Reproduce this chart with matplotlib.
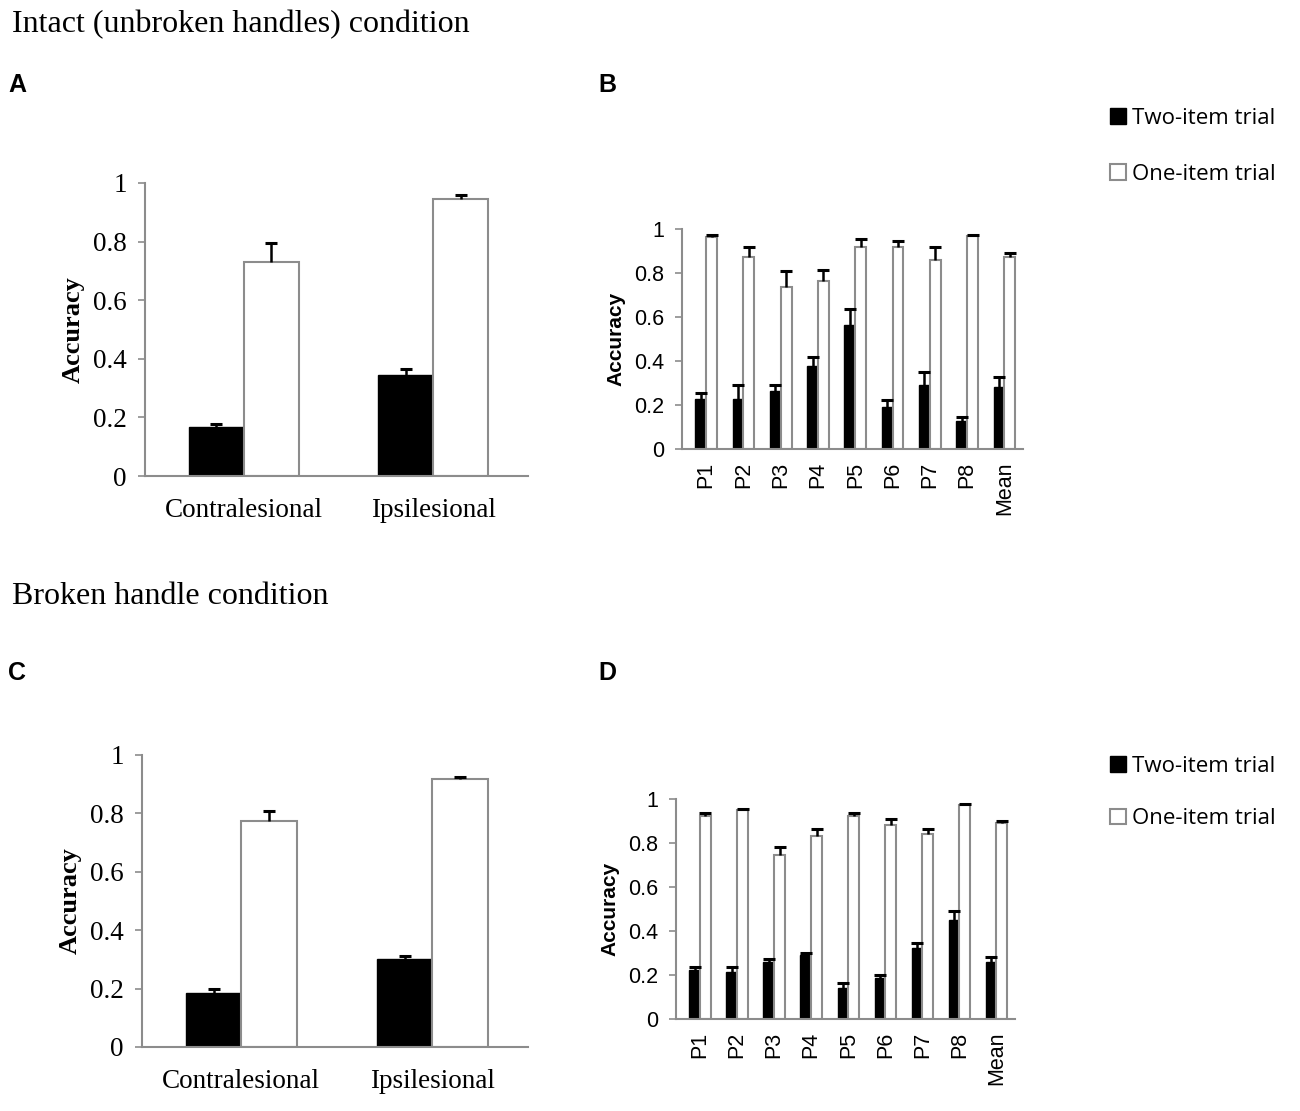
import matplotlib.pyplot as plt
from matplotlib.patches import Patch
import numpy as np

# panel A / C: side-level means
sides = ['Contralesional', 'Ipsilesional']
a_two = [0.166, 0.344]
a_two_err = [0.012, 0.020]
a_one = [0.732, 0.945]
a_one_err = [0.063, 0.015]

c_two = [0.185, 0.302]
c_two_err = [0.013, 0.011]
c_one = [0.775, 0.918]
c_one_err = [0.034, 0.008]

# panel B / D: per participant
patients = ['P1', 'P2', 'P3', 'P4', 'P5', 'P6', 'P7', 'P8', 'Mean']
b_two = [0.227, 0.227, 0.265, 0.376, 0.565, 0.190, 0.290, 0.126, 0.282]
b_two_err = [0.028, 0.063, 0.025, 0.044, 0.071, 0.034, 0.060, 0.019, 0.044]
b_one = [0.964, 0.873, 0.735, 0.765, 0.917, 0.917, 0.860, 0.967, 0.873]
b_one_err = [0.010, 0.045, 0.073, 0.050, 0.038, 0.027, 0.057, 0.007, 0.017]

d_two = [0.224, 0.212, 0.258, 0.290, 0.140, 0.186, 0.323, 0.452, 0.258]
d_two_err = [0.012, 0.024, 0.016, 0.010, 0.024, 0.014, 0.022, 0.038, 0.024]
d_one = [0.921, 0.952, 0.747, 0.830, 0.921, 0.883, 0.842, 0.974, 0.890]
d_one_err = [0.015, 0.004, 0.035, 0.035, 0.015, 0.027, 0.023, 0.002, 0.010]

legend_labels = ['Two-item trial', 'One-item trial']
yticks = [0, 0.2, 0.4, 0.6, 0.8, 1]
ytick_labels = ['0', '0.2', '0.4', '0.6', '0.8', '1']

GRAY = '#8c8c8c'
SERIF = 'Liberation Serif'
SANS = 'Liberation Sans'
W, H = 1300, 1111

fig = plt.figure(figsize=(W / 100, H / 100), dpi=100)


def px_axes(left, top, right, bottom):
    return fig.add_axes([left / W, 1 - bottom / H, (right - left) / W, (bottom - top) / H])


def draw_panel(ax, cats, two, two_err, one, one_err, font, fs, lab_fs, rot, xlim, xpad):
    x = np.arange(len(cats))
    w = 0.29
    ax.bar(x - w / 2, two, w, color='black', edgecolor='black', linewidth=1, zorder=2)
    ax.bar(x + w / 2, one, w, color='white', edgecolor=GRAY, linewidth=1.5, zorder=2)
    # one-sided error bars (upper only) with short caps
    for xs, v, e in ((x - w / 2, two, two_err), (x + w / 2, one, one_err)):
        tops = np.array(v) + np.array(e)
        ax.vlines(xs, v, tops, color='black', linewidth=1.8, zorder=3)
        ax.plot(xs, tops, ls='none', marker='_', ms=8, mew=2.2, color='black', zorder=3)
    ax.set_ylim(0, 1)
    ax.set_xlim(*xlim)
    ax.set_yticks(yticks)
    ax.set_yticklabels(ytick_labels, fontfamily=font, fontsize=fs)
    ax.set_xticks(x)
    ax.set_xticklabels(cats, fontfamily=font, fontsize=fs, rotation=rot)
    ax.tick_params(axis='x', length=0, pad=xpad)
    ax.tick_params(axis='y', length=5, color=GRAY, width=1.2, direction='out', pad=8)
    for s in ('top', 'right'):
        ax.spines[s].set_visible(False)
    for s in ('left', 'bottom'):
        ax.spines[s].set_color(GRAY)
        ax.spines[s].set_linewidth(1.5)
    ax.set_ylabel('Accuracy', fontfamily=font, fontsize=lab_fs, fontweight='bold',
                  labelpad=6)


axA = px_axes(145, 183, 528, 476)
draw_panel(axA, sides, a_two, a_two_err, a_one, a_one_err, SERIF, 19.5, 19, 0,
           (-0.52, 1.5), 16)

axC = px_axes(142, 755, 528, 1047)
draw_panel(axC, sides, c_two, c_two_err, c_one, c_one_err, SERIF, 19.5, 19, 0,
           (-0.52, 1.5), 16)

axB = px_axes(682, 229, 1023, 449)
draw_panel(axB, patients, b_two, b_two_err, b_one, b_one_err, SANS, 15.5, 15, 90,
           (-0.65, 8.5), 9)

axD = px_axes(676, 799, 1015, 1019)
draw_panel(axD, patients, d_two, d_two_err, d_one, d_one_err, SANS, 15.5, 15, 90,
           (-0.65, 8.5), 9)

handles = [Patch(facecolor='black', edgecolor='black'),
           Patch(facecolor='white', edgecolor=GRAY, linewidth=1.5)]
for ax, y, sp in ((axB, 1 - 88 / H, 1.57), (axD, 1 - 736 / H, 1.41)):
    ax.legend(handles, legend_labels, loc='upper left', bbox_to_anchor=(1090 / W, y),
              bbox_transform=fig.transFigure, frameon=False, handlelength=0.7,
              handleheight=0.7, handletextpad=0.3, labelspacing=sp,
              prop=dict(family='Open Sans', size=16))

fig.text(12 / W, 1 - 25 / H, 'Intact (unbroken handles) condition', fontfamily=SERIF,
         fontsize=23, va='center', ha='left')
fig.text(12 / W, 1 - 597 / H, 'Broken handle condition', fontfamily=SERIF,
         fontsize=23, va='center', ha='left')
for lab, xp, yp in (('A', 8, 85), ('B', 598, 85), ('C', 8, 673), ('D', 598, 673)):
    fig.text(xp / W, 1 - yp / H, lab, fontfamily=SANS, fontweight='bold', fontsize=18,
             va='center', ha='left')

fig.savefig('out.png', dpi=100)
